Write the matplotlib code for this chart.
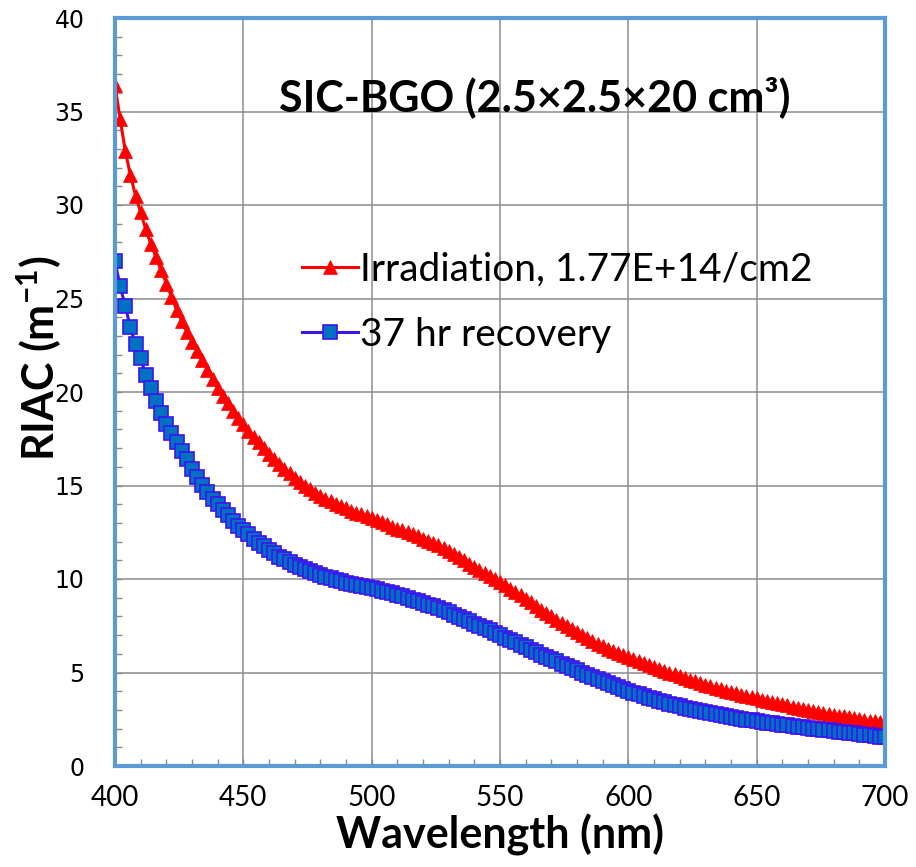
import numpy as np
import matplotlib
matplotlib.use("Agg")
import matplotlib.pyplot as plt
from matplotlib.ticker import MultipleLocator

# wavelength grid, 2 nm steps
wavelength = np.arange(400, 701, 2)

irradiation = [
    36.4, 34.6, 32.9, 31.6, 30.5, 29.6, 28.7, 27.9, 27.2, 26.5,
    25.8, 25.1, 24.4, 23.8, 23.2, 22.7, 22.2, 21.7, 21.2, 20.7,
    20.2, 19.8, 19.4, 19.0, 18.6, 18.3, 17.9, 17.6, 17.3, 17.0,
    16.7, 16.4, 16.15, 15.9, 15.65, 15.4, 15.2, 15.0, 14.8, 14.6,
    14.45, 14.3, 14.15, 14.0, 13.9, 13.8, 13.65, 13.55, 13.45, 13.35,
    13.25, 13.15, 13.05, 12.95, 12.8, 12.7, 12.6, 12.5, 12.4, 12.3,
    12.15, 12.05, 11.95, 11.8, 11.65, 11.5, 11.35, 11.18, 11.0, 10.82,
    10.64, 10.47, 10.31, 10.15, 10.0, 9.85, 9.67, 9.48, 9.3, 9.12,
    8.95, 8.75, 8.55, 8.36, 8.18, 8.0, 7.83, 7.66, 7.49, 7.32,
    7.16, 7.0, 6.85, 6.7, 6.55, 6.41, 6.28, 6.15, 6.03, 5.92,
    5.82, 5.71, 5.6, 5.5, 5.4, 5.3, 5.2, 5.1, 5.0, 4.9,
    4.8, 4.7, 4.61, 4.52, 4.43, 4.35, 4.27, 4.19, 4.11, 4.03,
    3.96, 3.89, 3.82, 3.75, 3.68, 3.62, 3.55, 3.49, 3.42, 3.36,
    3.3, 3.24, 3.18, 3.12, 3.06, 3.0, 2.95, 2.9, 2.85, 2.8,
    2.75, 2.7, 2.66, 2.61, 2.57, 2.52, 2.48, 2.43, 2.39, 2.34,
    2.3,
]

recovery = [
    27.0, 25.65, 24.6, 23.45, 22.55, 21.8, 20.9, 20.2, 19.5, 18.9,
    18.3, 17.8, 17.35, 16.85, 16.4, 15.9, 15.45, 15.05, 14.65, 14.3,
    14.0, 13.7, 13.4, 13.1, 12.85, 12.6, 12.38, 12.16, 11.95, 11.75,
    11.55, 11.37, 11.2, 11.05, 10.9, 10.77, 10.65, 10.53, 10.42, 10.32,
    10.22, 10.13, 10.04, 9.96, 9.88, 9.81, 9.74, 9.68, 9.62, 9.56,
    9.5, 9.44, 9.38, 9.31, 9.24, 9.16, 9.08, 8.99, 8.9, 8.81,
    8.72, 8.63, 8.53, 8.43, 8.32, 8.21, 8.1, 7.98, 7.86, 7.74,
    7.62, 7.5, 7.38, 7.25, 7.13, 7.0, 6.87, 6.74, 6.61, 6.48,
    6.35, 6.22, 6.09, 5.96, 5.83, 5.71, 5.59, 5.47, 5.35, 5.23,
    5.12, 5.0, 4.89, 4.78, 4.67, 4.56, 4.45, 4.34, 4.23, 4.12,
    4.02, 3.92, 3.83, 3.74, 3.65, 3.56, 3.48, 3.4, 3.33, 3.26,
    3.19, 3.12, 3.06, 3.0, 2.94, 2.88, 2.82, 2.77, 2.72, 2.67,
    2.62, 2.57, 2.52, 2.48, 2.44, 2.4, 2.36, 2.32, 2.28, 2.24,
    2.2, 2.17, 2.13, 2.1, 2.06, 2.03, 2.0, 1.97, 1.94, 1.91,
    1.87, 1.84, 1.8, 1.77, 1.74, 1.7, 1.67, 1.64, 1.6, 1.57,
    1.53,
]

labels = ["Irradiation, 1.77E+14/cm2", "37 hr recovery"]
title = "SIC-BGO (2.5×2.5×20 cm³)"

SANS = ["Lato", "DejaVu Sans"]
plt.rcParams["mathtext.fontset"] = "custom"
plt.rcParams["mathtext.rm"] = "Lato:bold"
plt.rcParams["mathtext.bf"] = "Lato:bold"

W, H = 916, 867
fig = plt.figure(figsize=(W / 100, H / 100), dpi=100)
x0, x1, y0, y1 = 115, 885, 18, 766
ax = fig.add_axes([x0 / W, 1 - y1 / H, (x1 - x0) / W, (y1 - y0) / H])

ax.plot(wavelength, irradiation, color="#ff0000", lw=2.2, marker="^",
        ms=10, mfc="#ff0000", mec="#ff0000", mew=0.5, label=labels[0])
ax.plot(wavelength, recovery, color="#3c14f0", lw=2.2, marker="s",
        ms=9.5, mfc="#0070c0", mec="#3c14f0", mew=1.2, label=labels[1])

ax.set_xlim(400, 700)
ax.set_ylim(0, 40)
ax.xaxis.set_major_locator(MultipleLocator(50))
ax.xaxis.set_minor_locator(MultipleLocator(10))
ax.yaxis.set_major_locator(MultipleLocator(5))
ax.yaxis.set_minor_locator(MultipleLocator(1))
ax.grid(True, which="major", color="#8c8c8c", lw=1.1)
ax.set_axisbelow(True)

for s in ax.spines.values():
    s.set_color("#5b9bd5")
    s.set_linewidth(3)

ax.tick_params(axis="both", which="both", direction="in", color="#8c8c8c",
               width=1, length=5)
ax.tick_params(axis="x", which="major", pad=14, labelsize=20)
ax.tick_params(axis="y", which="major", pad=22, labelsize=17)
for lab in ax.get_xticklabels():
    lab.set_family(SANS)

ax.set_xlabel("Wavelength (nm)", family=SANS, weight="bold", fontsize=31)
ax.xaxis.set_label_coords(0.5, -0.064)
ax.set_ylabel("RIAC (m$^{-1}$)", family=SANS, weight="bold", fontsize=31)
ax.yaxis.set_label_coords(-0.066, 0.545)

ax.text(0.545, 0.894, title, transform=ax.transAxes, ha="center", va="center",
        family=SANS, weight="bold", fontsize=31)

leg = ax.legend(loc="upper left", bbox_to_anchor=(0.243, 0.688), frameon=False,
                prop={"family": SANS, "size": 28}, numpoints=1,
                handlelength=1.45, handletextpad=0.05, labelspacing=0.75,
                borderpad=0, borderaxespad=0)

fig.savefig("out.png", dpi=100)
